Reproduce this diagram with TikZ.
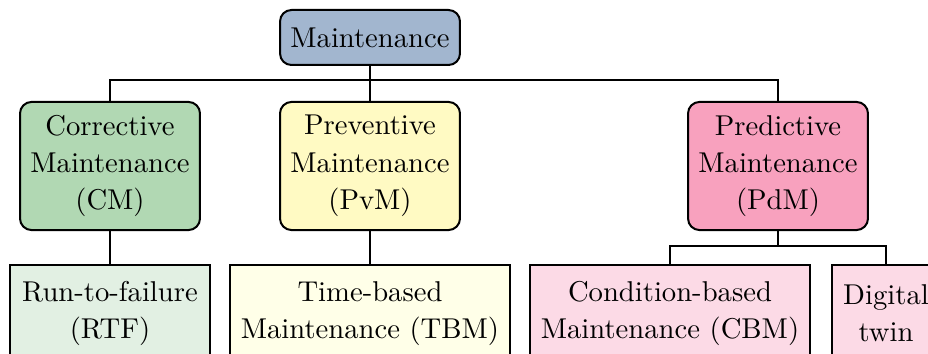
\documentclass[tikz,border=0pt]{standalone}
\usetikzlibrary{positioning}
\definecolor{rootfill}{HTML}{A2B6CF}
\definecolor{cmfill}{HTML}{B1D8B3}
\definecolor{pvmfill}{HTML}{FFFAC3}
\definecolor{pdmfill}{HTML}{F8A1BE}
\definecolor{rtffill}{HTML}{E2F0E3}
\definecolor{tbmfill}{HTML}{FFFFE8}
\definecolor{cbmfill}{HTML}{FCDAE6}
\tikzset{
  topbox/.style={draw, line width=0.7pt, rounded corners=4pt, inner sep=0pt,
    align=center, minimum width=62.8pt, font=\fontsize{10}{13}\selectfont},
  leafbox/.style={draw, line width=0.7pt, inner sep=0pt, align=center,
    minimum height=33.9pt, font=\fontsize{10}{13}\selectfont},
  link/.style={line width=0.4pt}
}
\begin{document}
\begin{tikzpicture}[x=0.349pt,y=-0.349pt]
  \useasboundingbox (0,0) rectangle (928,354);
  \clip (0,0) rectangle (928,354);
  % root
  \node[topbox, fill=rootfill, minimum height=19.2pt] (root) at (370,37.5) {Maintenance};
  % main categories
  \node[topbox, fill=cmfill, minimum height=44.7pt] (cm) at (110,166)
    {Corrective\\Maintenance\\(CM)};
  \node[topbox, fill=pvmfill, minimum height=44.7pt] (pvm) at (370,166)
    {Preventive\\Maintenance\\(PvM)};
  \node[topbox, fill=pdmfill, minimum height=44.7pt] (pdm) at (778,166)
    {Predictive\\Maintenance\\(PdM)};
  % strategies
  \node[leafbox, fill=rtffill, minimum width=69.8pt] (rtf) at (110,313.5)
    {Run-to-failure\\(RTF)};
  \node[leafbox, fill=tbmfill, minimum width=97.7pt] (tbm) at (370,313.5)
    {Time-based\\Maintenance (TBM)};
  \node[leafbox, fill=cbmfill, minimum width=97.7pt] (cbm) at (670,313.5)
    {Condition-based\\Maintenance (CBM)};
  \node[leafbox, fill=cbmfill, minimum width=37.7pt] (dt) at (886,313.5)
    {Digital\\twin};
  % connectors
  \coordinate (bus) at (370,80);
  \coordinate (pbus) at (778,246);
  \draw[link] (root.south) -- (bus);
  \draw[link] (bus) -- (pvm.north);
  \draw[link] (bus) -| (cm.north);
  \draw[link] (bus) -| (pdm.north);
  \draw[link] (cm.south) -- (rtf.north);
  \draw[link] (pvm.south) -- (tbm.north);
  \draw[link] (pdm.south) -- (pbus);
  \draw[link] (pbus) -| (cbm.north);
  \draw[link] (pbus) -| (dt.north);
\end{tikzpicture}
\end{document}
